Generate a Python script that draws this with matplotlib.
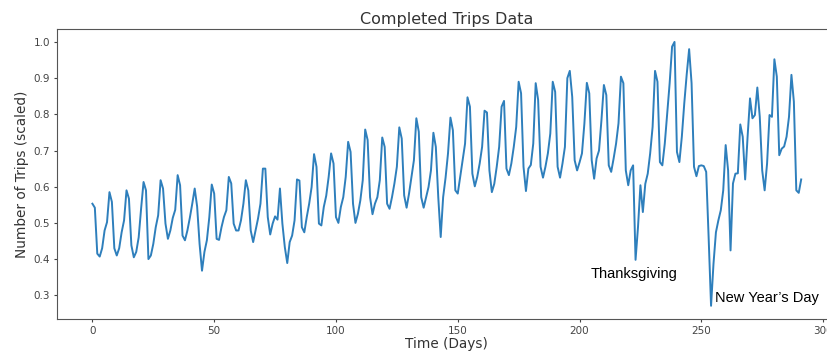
import matplotlib
matplotlib.use("Agg")
import matplotlib.pyplot as plt
import numpy as np

# scaled completed trips per day
trips = [
    0.553, 0.542, 0.415, 0.407, 0.430, 0.479, 0.502, 0.585, 0.558, 0.430,
    0.410, 0.430, 0.474, 0.507, 0.590, 0.567, 0.438, 0.405, 0.420, 0.460,
    0.540, 0.613, 0.590, 0.400, 0.410, 0.442, 0.488, 0.521, 0.618, 0.595,
    0.498, 0.456, 0.479, 0.514, 0.536, 0.632, 0.604, 0.465, 0.452, 0.479,
    0.514, 0.553, 0.595, 0.545, 0.442, 0.368, 0.420, 0.452, 0.516, 0.606,
    0.581, 0.456, 0.453, 0.488, 0.516, 0.535, 0.627, 0.609, 0.498, 0.479,
    0.479, 0.507, 0.553, 0.618, 0.590, 0.479, 0.447, 0.479, 0.512, 0.553,
    0.650, 0.650, 0.516, 0.468, 0.498, 0.518, 0.509, 0.595, 0.498, 0.433,
    0.389, 0.447, 0.465, 0.507, 0.620, 0.617, 0.488, 0.474, 0.516, 0.553,
    0.599, 0.690, 0.655, 0.498, 0.493, 0.544, 0.575, 0.627, 0.692, 0.664,
    0.516, 0.500, 0.544, 0.571, 0.627, 0.724, 0.696, 0.553, 0.500, 0.525,
    0.562, 0.618, 0.758, 0.729, 0.571, 0.524, 0.553, 0.571, 0.618, 0.736,
    0.710, 0.553, 0.539, 0.571, 0.609, 0.655, 0.764, 0.733, 0.576, 0.542,
    0.581, 0.627, 0.673, 0.789, 0.752, 0.571, 0.542, 0.571, 0.599, 0.645,
    0.749, 0.710, 0.571, 0.461, 0.571, 0.625, 0.692, 0.791, 0.756, 0.590,
    0.581, 0.627, 0.673, 0.719, 0.847, 0.821, 0.636, 0.601, 0.627, 0.664,
    0.710, 0.810, 0.805, 0.645, 0.585, 0.608, 0.655, 0.710, 0.821, 0.837,
    0.650, 0.632, 0.664, 0.710, 0.765, 0.890, 0.858, 0.655, 0.588, 0.650,
    0.660, 0.719, 0.886, 0.840, 0.655, 0.625, 0.655, 0.692, 0.747, 0.890,
    0.862, 0.655, 0.625, 0.664, 0.710, 0.900, 0.920, 0.848, 0.673, 0.645,
    0.667, 0.692, 0.775, 0.887, 0.858, 0.673, 0.622, 0.678, 0.700, 0.784,
    0.881, 0.853, 0.659, 0.641, 0.678, 0.719, 0.775, 0.904, 0.886, 0.645,
    0.604, 0.645, 0.659, 0.398, 0.488, 0.604, 0.530, 0.608, 0.636, 0.692,
    0.765, 0.920, 0.890, 0.668, 0.659, 0.719, 0.802, 0.886, 0.987, 1.000,
    0.696, 0.668, 0.738, 0.830, 0.910, 0.980, 0.886, 0.655, 0.629, 0.657,
    0.659, 0.657, 0.641, 0.461, 0.271, 0.387, 0.474, 0.507, 0.535, 0.590,
    0.715, 0.645, 0.424, 0.609, 0.636, 0.637, 0.772, 0.738, 0.620, 0.738,
    0.844, 0.789, 0.798, 0.874, 0.793, 0.645, 0.590, 0.664, 0.798, 0.793,
    0.952, 0.904, 0.687, 0.705, 0.711, 0.738, 0.793, 0.909, 0.835, 0.590,
    0.583, 0.620,
]
days = np.arange(len(trips))

# holiday labels: (text, day, value)
notes = [("Thanksgiving", 204.5, 0.36), ("New Year\u2019s Day", 255.5, 0.292)]

grey = '#333333'
fig = plt.figure(figsize=(8.28, 3.53), dpi=100)
ax = fig.add_axes([0.0688, 0.0963, 0.9416, 0.8224])

ax.plot(days, trips, color='#2e7fbc', linewidth=1.4)

for txt, d, v in notes:
    ax.text(d, v, txt, fontsize=10.5, family='Liberation Sans', va='center', ha='left')

ax.set_xlim(-14.55, 305.55)
ax.set_ylim(0.2345, 1.0365)
ax.set_xticks([0, 50, 100, 150, 200, 250, 300])
ax.set_yticks([0.3, 0.4, 0.5, 0.6, 0.7, 0.8, 0.9, 1.0])
ax.tick_params(labelsize=7.5, length=2.5, pad=2.5, colors='#444444')
for s in ax.spines.values():
    s.set_color('#555555')

ax.set_title("Completed Trips Data", fontsize=11.5, pad=3.5, color=grey)
ax.set_xlabel("Time (Days)", fontsize=9.8, labelpad=1, color=grey)
ax.set_ylabel("Number of Trips (scaled)", fontsize=9.8, labelpad=3, color=grey)

fig.savefig("out.png", dpi=100)
